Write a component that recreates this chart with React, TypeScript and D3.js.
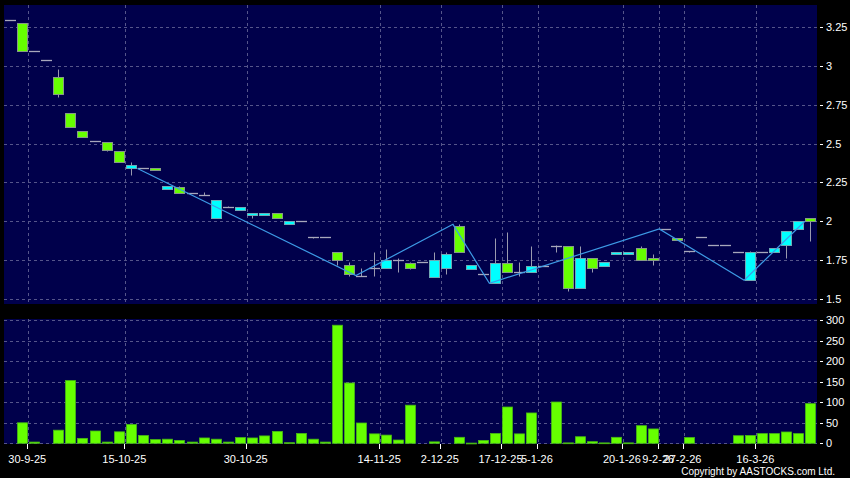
import React from "react";
import * as d3 from "d3";

// ---- data (one entry per trading slot) ----
const opens = [
  3.30, 3.28, 3.10, 3.04, 2.93, 2.70, 2.58, 2.52, 2.51, 2.45,
  2.34, 2.34, 2.34, 2.21, 2.22, 2.18, 2.17, 2.02, 2.09, 2.07,
  2.04, 2.04, 2.05, 1.98, 2.00, 1.90, 1.90, 1.80, 1.72, 1.65,
  1.70, 1.70, 1.75, 1.73, 1.74, 1.64, 1.70, 1.97, 1.69, 1.66,
  1.60, 1.73, 1.67, 1.67, 1.71, 1.84, 1.84, 1.57, 1.76, 1.71,
  1.79, 1.79, 1.83, 1.76, 1.95, 1.89, 1.81, 1.90, 1.85, 1.85,
  1.80, 1.62, 1.80, 1.80, 1.85, 1.95, 2.02,
];
const highs = [
  3.30, 3.28, 3.10, 3.04, 2.98, 2.70, 2.58, 2.52, 2.51, 2.45,
  2.38, 2.34, 2.34, 2.23, 2.23, 2.18, 2.19, 2.14, 2.10, 2.09,
  2.05, 2.05, 2.05, 2.00, 2.00, 1.90, 1.90, 1.80, 1.74, 1.70,
  1.80, 1.82, 1.76, 1.74, 1.74, 1.80, 1.80, 1.98, 1.72, 1.66,
  1.89, 1.93, 1.74, 1.84, 1.71, 1.85, 1.84, 1.84, 1.76, 1.74,
  1.80, 1.80, 1.84, 1.79, 1.95, 1.89, 1.81, 1.90, 1.85, 1.85,
  1.80, 1.81, 1.80, 1.83, 1.94, 2.00, 2.02,
];
const lows = [
  3.30, 3.10, 3.10, 3.04, 2.80, 2.61, 2.54, 2.52, 2.45, 2.38,
  2.30, 2.34, 2.33, 2.21, 2.18, 2.18, 2.17, 2.02, 2.09, 2.07,
  2.02, 2.04, 2.02, 1.98, 2.00, 1.89, 1.90, 1.72, 1.65, 1.65,
  1.65, 1.70, 1.67, 1.69, 1.74, 1.64, 1.66, 1.80, 1.69, 1.66,
  1.60, 1.67, 1.65, 1.67, 1.71, 1.80, 1.55, 1.57, 1.67, 1.71,
  1.79, 1.79, 1.75, 1.72, 1.95, 1.88, 1.80, 1.90, 1.85, 1.85,
  1.80, 1.62, 1.80, 1.80, 1.76, 1.95, 1.87,
];
const closes = [
  3.30, 3.10, 3.10, 3.04, 2.82, 2.61, 2.54, 2.52, 2.46, 2.38,
  2.36, 2.34, 2.33, 2.23, 2.18, 2.18, 2.17, 2.14, 2.09, 2.09,
  2.05, 2.05, 2.02, 2.00, 2.00, 1.90, 1.90, 1.75, 1.66, 1.65,
  1.70, 1.75, 1.75, 1.70, 1.74, 1.75, 1.79, 1.80, 1.72, 1.66,
  1.73, 1.67, 1.67, 1.71, 1.71, 1.84, 1.57, 1.76, 1.70, 1.74,
  1.80, 1.80, 1.75, 1.75, 1.95, 1.88, 1.81, 1.90, 1.85, 1.85,
  1.80, 1.80, 1.80, 1.83, 1.94, 2.00, 2.00,
];
const volumes = [
  0, 50, 3, 0, 32, 153, 12, 30, 3, 28,
  46, 19, 9, 10, 7, 3, 13, 10, 3, 14,
  13, 18, 29, 1.5, 24, 10, 3, 288, 147, 49.5,
  23, 20, 8, 93, 0, 3.5, 0, 14.6, 0.5, 7,
  24, 88.5, 23, 74, 0, 100.7, 1, 16, 4, 1,
  14.6, 1, 43, 35, 0, 0, 14, 0, 0, 0,
  18.5, 19, 23.6, 23.6, 27.6, 23.6, 96.7,
];
const zigzagSlots = [11, 29, 37, 40, 54, 61, 66];
const zigzagValues = [2.34, 1.65, 1.98, 1.6, 1.95, 1.62, 2.0];
const dateLabels = [
  "30-9-25", "15-10-25", "30-10-25", "14-11-25", "2-12-25", "17-12-25",
  "5-1-26", "20-1-26", "9-2-26", "27-2-26", "16-3-26",
];
const dateSlots = [2, 10, 20, 31, 36, 41, 44, 51, 54, 56, 62];
const priceTicks = [1.5, 1.75, 2, 2.25, 2.5, 2.75, 3, 3.25];
const volumeTicks = [0, 50, 100, 150, 200, 250, 300];

// ---- layout ----
const W = 850;
const H = 478;
const PL = 4;
const PR = 817;
const PT = 5;
const PB = 304;
const VT = 319;
const VB = 444;
const BG = "#00004b";
const GRID = "#55558a";
const FONT = "'Liberation Sans', Arial, sans-serif";

export default function App() {
  const n = opens.length;
  const x = d3.scaleBand<number>().domain(d3.range(n)).range([PL, PR]).padding(0);
  const step = x.step();
  const y = d3.scaleLinear().domain([1.5, 3.25]).range([298.8, 27.3]);
  const yv = d3.scaleLinear().domain([0, 300]).range([443.3, 320.3]);
  const crisp = (v: number) => Math.round(v) + 0.5;
  const bodyLeft = (k: number) => Math.round((x(k) as number) + (step - 11) / 2);
  const cx = (k: number) => bodyLeft(k) + 5.5;

  const zz = d3
    .line<number>()
    .x((_, i) => x(zigzagSlots[i]) as number)
    .y((v) => y(v))(zigzagValues);

  return (
    <svg
      width={W}
      height={H}
      style={{ position: "absolute", left: 0, top: 0, display: "block", background: "#000" }}
      fontFamily={FONT}
    >
      <rect x={0} y={0} width={W} height={H} fill="#000" />
      {/* panels */}
      <rect x={PL} y={PT} width={PR - PL} height={PB - PT} fill={BG} />
      <rect x={PL} y={VT} width={PR - PL} height={VB - VT} fill={BG} />

      {/* grids */}
      {priceTicks.map((t) => (
        <line key={"pg" + t} x1={PL} x2={PR} y1={crisp(y(t))} y2={crisp(y(t))}
          stroke={GRID} strokeDasharray="3,3" />
      ))}
      {volumeTicks.map((t) => (
        <line key={"vg" + t} x1={PL} x2={PR} y1={crisp(yv(t))} y2={crisp(yv(t))}
          stroke={GRID} strokeDasharray="3,3" />
      ))}
      {dateSlots.map((s) => (
        <g key={"vx" + s}>
          <line x1={crisp(x(s) as number)} x2={crisp(x(s) as number)} y1={PT} y2={PB}
            stroke={GRID} strokeDasharray="3,3" />
          <line x1={crisp(x(s) as number)} x2={crisp(x(s) as number)} y1={VT} y2={VB}
            stroke={GRID} strokeDasharray="3,3" />
        </g>
      ))}

      {/* candles */}
      {opens.map((o, k) => {
        const c = closes[k];
        const h = highs[k];
        const l = lows[k];
        const left = bodyLeft(k);
        const mid = cx(k);
        const wick =
          h !== l ? (
            <line x1={mid} x2={mid} y1={crisp(y(h))} y2={crisp(y(l))} stroke="#9a9aae" />
          ) : null;
        if (o === c) {
          return (
            <g key={"c" + k}>
              {wick}
              <line x1={left} x2={left + 11} y1={crisp(y(o))} y2={crisp(y(o))}
                stroke="#a8a8bc" strokeWidth={1.3} />
            </g>
          );
        }
        const up = c > o;
        const top = crisp(y(Math.max(o, c)));
        const bot = crisp(y(Math.min(o, c)));
        return (
          <g key={"c" + k}>
            {wick}
            <rect x={left + 0.5} y={top} width={10} height={Math.max(bot - top, 1)}
              fill={up ? "#00ffff" : "#66ff00"}
              stroke={up ? "#6fa9b4" : "#869a86"} />
          </g>
        );
      })}

      {/* zigzag */}
      <path d={zz || ""} fill="none" stroke="#3d9be6" strokeWidth={1.2} />

      {/* volume bars */}
      {volumes.map((v, k) =>
        v > 0 ? (
          <rect key={"v" + k} x={bodyLeft(k) + 0.5} y={yv(v)} width={10}
            height={Math.max(yv(0) - yv(v), 0.8)} fill="#66ff00" stroke="#48b814" strokeWidth={0.8} />
        ) : null
      )}

      {/* right axes */}
      {priceTicks.map((t) => (
        <g key={"pt" + t}>
          <line x1={820} x2={823} y1={crisp(y(t))} y2={crisp(y(t))} stroke="#fff" />
          <text x={826} y={y(t)} dy="0.35em" fill="#fff" fontSize={11}>{String(t)}</text>
        </g>
      ))}
      {volumeTicks.map((t) => (
        <g key={"vt" + t}>
          <line x1={820} x2={823} y1={crisp(yv(t))} y2={crisp(yv(t))} stroke="#fff" />
          <text x={826} y={yv(t)} dy="0.35em" fill="#fff" fontSize={11}>{String(t)}</text>
        </g>
      ))}

      {/* bottom date axis */}
      {dateLabels.map((lab, i) => {
        const px = (x(dateSlots[i]) as number) - 1;
        return (
          <g key={"d" + i}>
            <line x1={crisp(px)} x2={crisp(px)} y1={444} y2={449} stroke="#fff" />
            <text x={px} y={462.5} textAnchor="middle" fill="#fff" fontSize={11}>{lab}</text>
          </g>
        );
      })}

      <text x={835} y={475} textAnchor="end" fill="#fff" fontSize={10}>
        Copyright by AASTOCKS.com Ltd.
      </text>
    </svg>
  );
}
